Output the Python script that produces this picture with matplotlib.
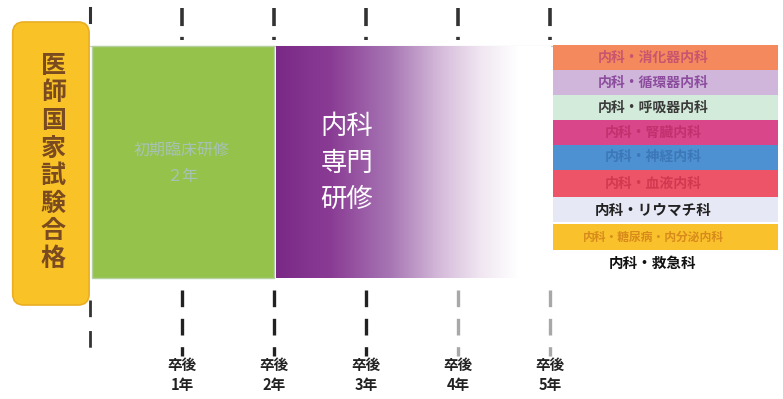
import numpy as np
import matplotlib
matplotlib.use("Agg")
import matplotlib.pyplot as plt
from matplotlib.patches import FancyBboxPatch, Rectangle
from matplotlib.colors import LinearSegmentedColormap

plt.rcParams['font.family'] = ['Noto Sans CJK JP', 'DejaVu Sans']

# ---- data ----
years = [0, 1, 2, 3, 4, 5]
year_labels = ["", "卒後\n1年", "卒後\n2年", "卒後\n3年", "卒後\n4年", "卒後\n5年"]
initial_span = (0, 2)
initial_label = "初期臨床研修\n２年"
specialty_span = (2, 5)
specialty_label = "内科\n専門\n研修"
exam_label = "医師国家試験合格"
subspecialties = ["内科・消化器内科", "内科・循環器内科", "内科・呼吸器内科", "内科・腎臓内科",
                  "内科・神経内科", "内科・血液内科", "内科・リウマチ科",
                  "内科・糖尿病・内分泌内科", "内科・救急科"]
band_colors = ["#F5895E", "#CFB6DA", "#D3EBDA", "#D9468A", "#4E91D2", "#EE5468", "#E6E8F5", "#F9C22C", "#FFFFFF"]
text_colors = ["#C8556E", "#8C4C9E", "#3A3A3A", "#C2306E", "#3C77B8", "#D23850", "#222222", "#D88A1A", "#111111"]
band_sizes = [10, 10, 10, 10, 10, 10, 10.5, 8.5, 10.5]

fig = plt.figure(figsize=(7.83, 3.99), dpi=100)
ax = fig.add_axes([0, 0, 1, 1])
px_per_year = 92.0
x0_px = 90.0
ax.set_xlim(-x0_px / px_per_year, (783 - x0_px) / px_per_year)
ax.set_ylim(399, 0)
ax.axis('off')

top, bottom = 46, 278

# yellow box
ybox = FancyBboxPatch((-0.84, 22), 0.83, 283, boxstyle="round,pad=0,rounding_size=0.12",
                      mutation_aspect=92, facecolor="#F9C327", edgecolor="#E9AE22", lw=1.2, zorder=3)
ax.add_patch(ybox)
for i, ch in enumerate(exam_label):
    ax.text(-0.40, 66 + i * 27.5, ch, ha='center', va='center', fontsize=18,
            color="#7A4A20", fontweight='bold', zorder=4)

# green block
ax.add_patch(Rectangle((initial_span[0] + 0.02, top), initial_span[1] - initial_span[0] - 0.02,
                       bottom - top, facecolor="#95C24A", edgecolor="#B4CFA0", lw=1, zorder=2))
ax.text((initial_span[0] + initial_span[1]) / 2, 164, initial_label, ha='center', va='center',
        fontsize=11.5, color="#A6C2B6", linespacing=1.65, zorder=3)

# purple gradient
cmap = LinearSegmentedColormap.from_list("pg", [(0, "#7A2A86"), (0.2, "#8A3C95"), (0.42, "#A877B4"),
                                              (0.6, "#D6BCDB"), (0.75, "#F1E7F2"), (0.88, "#FFFFFF"), (1, "#FFFFFF")])
grad = np.tile(np.linspace(0, 1, 256), (20, 1))
ax.imshow(grad, cmap=cmap, aspect='auto', extent=(specialty_span[0] + 0.02, specialty_span[1], bottom, top),
          zorder=2, interpolation='bilinear')
ax.text(2.79, 163, specialty_label, ha='center', va='center', fontsize=19, color="#FFFFFF",
        linespacing=1.45, zorder=3)

# thin line along top
ax.plot([-0.05, 5.03], [top, top], color="#C8C8C8", lw=0.8, zorder=1)

# right bands
band_edges = [45, 70, 95, 120, 145, 170, 197, 222, 250, 276]
bx0, bx1 = 5.03, 7.48
for i, (lab, bc, tc, fs) in enumerate(zip(subspecialties, band_colors, text_colors, band_sizes)):
    y0, y1 = band_edges[i], band_edges[i + 1]
    if i == 7:
        y0 += 2
    ax.add_patch(Rectangle((bx0, y0), bx1 - bx0, y1 - y0, facecolor=bc, edgecolor='none', zorder=2))
    ax.text(6.12, (y0 + y1) / 2, lab, ha='center', va='center', fontsize=fs, color=tc,
            fontweight='bold', zorder=3)

# dashed year lines
for yr in years:
    c_bot = "#A8A8A8" if yr >= 4 else "#222222"
    c_top = "#333333"
    if yr == 0:
        ax.plot([yr, yr], [8, 22], color=c_top, lw=2.2, zorder=1)
        ax.plot([yr, yr], [300, 355], color="#333333", lw=2, dashes=(6, 5), zorder=1)
    else:
        ax.plot([yr, yr], [8, 40], color=c_top, lw=2.6, dashes=(5, 3), zorder=1)
        ax.plot([yr, yr], [290, 356], color=c_bot, lw=2.4, dashes=(5, 3.5), zorder=1)
    if year_labels[yr]:
        ax.text(yr, 375, year_labels[yr], ha='center', va='center', fontsize=10.5,
                color="#222222", fontweight='bold', linespacing=1.25)

fig.savefig("out.png", dpi=100)
